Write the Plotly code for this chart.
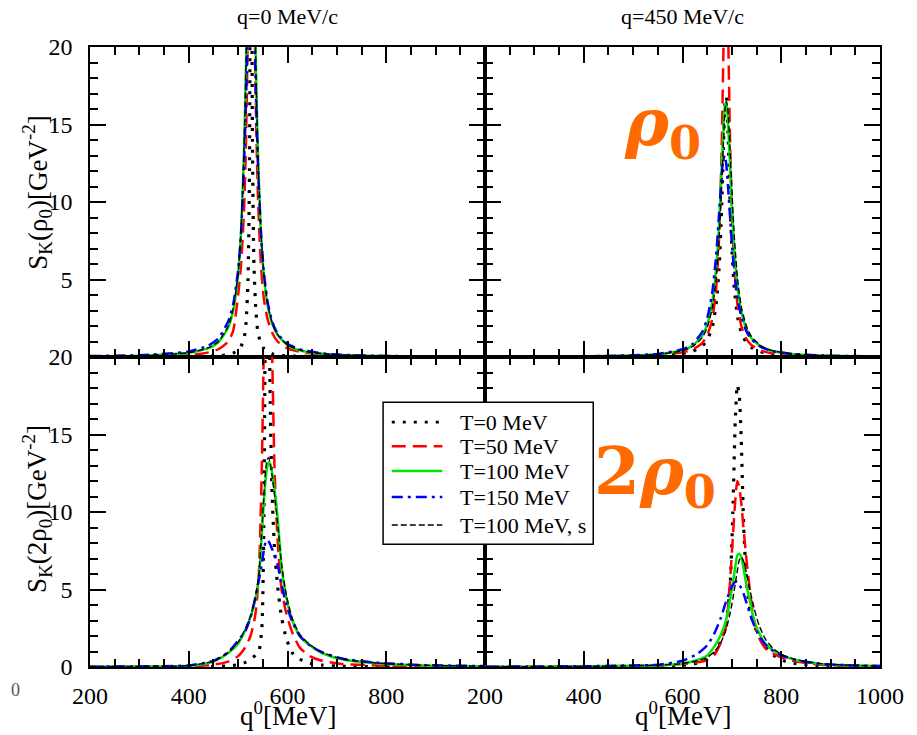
import plotly.graph_objects as go
from plotly.subplots import make_subplots

# ---- data (q0 in MeV, S_K in GeV^-2) ----
Q_TL = [200, 300, 400, 440, 460, 480, 490, 500, 506, 512, 516, 520, 523, 526, 529, 532, 536, 540, 546, 552, 560, 570, 580, 600, 630, 680, 750, 850, 1000]
TL_T0 = [0, 0, 0.02, 0.05, 0.08, 0.15, 0.25, 0.45, 0.7, 1.2, 2.2, 5, 12, 40, 14, 6, 3, 1.6, 0.9, 0.55, 0.35, 0.2, 0.13, 0.07, 0.04, 0.02, 0.01, 0, 0]
TL_T50 = [0.02, 0.04, 0.12, 0.3, 0.5, 1.0, 1.7, 4.0, 6.0, 9.5, 14, 22, 32, 40, 36, 26, 16, 10.5, 6, 3.8, 2.4, 1.5, 1.0, 0.55, 0.3, 0.13, 0.06, 0.03, 0.02]
TL_T100 = [0.04, 0.08, 0.27, 0.57, 0.95, 1.9, 3.0, 5.3, 8.1, 13.3, 18.9, 26.4, 31.7, 33.9, 31.7, 26.4, 18.9, 13.3, 8.1, 5.3, 3.3, 2.07, 1.41, 0.76, 0.39, 0.18, 0.085, 0.04, 0.02]
TL_T150 = [0.06, 0.12, 0.35, 0.75, 1.2, 2.3, 3.4, 5.6, 8.0, 12.5, 16.5, 22, 26, 27.5, 26, 22, 17, 12.5, 8.2, 5.5, 3.5, 2.2, 1.5, 0.85, 0.45, 0.2, 0.1, 0.05, 0.03]
TL_T100S = [0.04, 0.09, 0.28, 0.6, 1.0, 2.0, 3.1, 5.4, 8.3, 13.6, 19.2, 26.8, 32.0, 34.0, 31.5, 26.0, 18.6, 13.2, 8.2, 5.4, 3.4, 2.1, 1.45, 0.78, 0.4, 0.19, 0.09, 0.04, 0.02]

Q_TR = [200, 300, 400, 500, 550, 600, 620, 640, 650, 660, 668, 674, 679, 683, 686, 689, 692, 696, 700, 705, 712, 720, 730, 740, 760, 780, 820, 880, 1000]
TR_T0 = [0.007, 0.011, 0.02, 0.048, 0.089, 0.22, 0.36, 0.71, 1.1, 1.9, 3.4, 5.7, 9.4, 13.6, 16.3, 16.8, 14.7, 10.4, 7.0, 4.4, 2.5, 1.5, 0.91, 0.61, 0.32, 0.2, 0.1, 0.046, 0.017]
TR_T50 = [0.01, 0.015, 0.03, 0.07, 0.12, 0.3, 0.48, 0.9, 1.4, 2.4, 4.4, 7.6, 13, 19.9, 24.8, 25.7, 21.7, 14.5, 9.4, 5.7, 3.2, 1.9, 1.14, 0.76, 0.4, 0.25, 0.12, 0.06, 0.02]
TR_T100 = [0.015, 0.023, 0.042, 0.098, 0.18, 0.44, 0.72, 1.38, 2.1, 3.5, 5.7, 8.5, 11.9, 14.7, 16.2, 16.4, 15.3, 12.6, 9.8, 6.9, 4.4, 2.8, 1.76, 1.19, 0.64, 0.4, 0.2, 0.093, 0.035]
TR_T150 = [0.016, 0.025, 0.046, 0.11, 0.2, 0.5, 0.83, 1.62, 2.5, 4.1, 6.5, 9.2, 11.6, 12.8, 13.0, 12.3, 11.1, 9.2, 7.3, 5.5, 3.7, 2.5, 1.62, 1.13, 0.64, 0.4, 0.2, 0.098, 0.037]
TR_T100S = [0.014, 0.022, 0.04, 0.09, 0.17, 0.4, 0.66, 1.25, 1.9, 3.1, 5.0, 7.6, 10.8, 13.9, 15.9, 16.5, 15.9, 13.6, 10.8, 7.7, 4.9, 3.1, 1.95, 1.3, 0.7, 0.43, 0.21, 0.1, 0.037]

Q_BL = [200, 300, 400, 450, 480, 500, 515, 525, 535, 542, 548, 552, 556, 559, 562, 565, 569, 574, 580, 588, 598, 610, 625, 645, 670, 710, 780, 880, 1000]
BL_T0 = [0, 0, 0.01, 0.03, 0.08, 0.15, 0.3, 0.5, 0.75, 1.0, 2.5, 9, 30, 45, 28, 17, 11, 7.5, 5.2, 3.2, 1.8, 0.9, 0.5, 0.25, 0.12, 0.05, 0.02, 0, 0]
BL_T50 = [0, 0.01, 0.03, 0.15, 0.35, 0.7, 1.3, 2.0, 3.4, 6.0, 13, 20.5, 27, 30, 29, 25, 20, 12.5, 8.2, 5.0, 3.4, 2.2, 1.25, 0.7, 0.4, 0.2, 0.1, 0.05, 0.03]
BL_T100 = [0.02, 0.04, 0.08, 0.35, 0.9, 1.5, 2.4, 3.2, 4.4, 5.8, 8.6, 10.6, 12.2, 12.9, 13.2, 13.1, 12.5, 11.4, 9.6, 6.5, 4.4, 3.0, 2.0, 1.4, 0.9, 0.5, 0.25, 0.1, 0.05]
BL_T150 = [0.02, 0.04, 0.1, 0.4, 0.95, 1.7, 2.35, 3.2, 4.5, 5.6, 6.7, 7.5, 8.1, 8.2, 8.1, 7.9, 7.6, 7.2, 6.6, 5.3, 4.0, 2.9, 2.0, 1.4, 0.95, 0.55, 0.28, 0.12, 0.06]
BL_T100S = [0.02, 0.04, 0.09, 0.38, 0.95, 1.6, 2.5, 3.3, 4.5, 6.0, 8.9, 11.0, 12.8, 13.4, 13.5, 13.1, 12.3, 11.0, 9.3, 6.6, 4.6, 3.1, 2.1, 1.45, 0.95, 0.52, 0.26, 0.11, 0.05]

Q_BR = [200, 300, 400, 500, 550, 600, 630, 650, 665, 678, 688, 696, 702, 707, 711, 715, 719, 724, 730, 737, 745, 755, 768, 785, 805, 830, 880, 950, 1000]
BR_T0 = [0, 0, 0.01, 0.03, 0.06, 0.12, 0.25, 0.5, 0.9, 1.7, 2.8, 5.0, 10, 16, 18.2, 17.5, 14.6, 9.0, 5.4, 3.6, 2.7, 2.0, 1.3, 0.75, 0.4, 0.22, 0.08, 0.03, 0.02]
BR_T50 = [0.01, 0.02, 0.04, 0.07, 0.1, 0.2, 0.3, 0.45, 0.8, 1.6, 2.6, 5.4, 8.4, 10.8, 12.0, 11.6, 10.6, 8.8, 6.8, 4.8, 3.0, 1.9, 1.2, 0.85, 0.55, 0.35, 0.15, 0.07, 0.05]
BR_T100 = [0.01, 0.02, 0.04, 0.08, 0.1, 0.22, 0.45, 0.75, 1.35, 2.1, 3.0, 4.3, 5.4, 6.5, 7.2, 7.3, 7.1, 6.3, 5.2, 4.2, 3.0, 2.2, 1.5, 1.05, 0.7, 0.45, 0.2, 0.1, 0.07]
BR_T150 = [0.02, 0.03, 0.05, 0.1, 0.15, 0.4, 0.85, 1.4, 2.2, 3.2, 4.2, 4.9, 5.3, 5.5, 5.5, 5.3, 5.1, 4.7, 4.1, 3.4, 2.7, 2.0, 1.45, 1.0, 0.7, 0.45, 0.2, 0.1, 0.07]
BR_T100S = [0.01, 0.02, 0.04, 0.08, 0.12, 0.22, 0.4, 0.62, 1.0, 1.6, 2.4, 3.4, 4.4, 5.4, 6.2, 6.9, 7.1, 6.8, 6.0, 4.9, 3.8, 2.7, 1.8, 1.15, 0.75, 0.48, 0.22, 0.1, 0.07]

SERIES_NAMES = ["T=0 MeV", "T=50 MeV", "T=100 MeV", "T=150 MeV", "T=100 MeV, s"]
PANEL_TITLES = ["q=0 MeV/c", "q=450 MeV/c"]
X_TICKS = [200, 400, 600, 800, 1000]
Y_TICKS = [0, 5, 10, 15, 20]

SERIF = "Liberation Serif"
ORANGE = "#FF6A00"

# line styles per series: colour, width, dash
STYLES = [
    ("#000000", 3.2, "3px,8px"),
    ("#FF0000", 2.5, "14px,7px"),
    ("#00E600", 2.5, "solid"),
    ("#0000FF", 2.5, "11px,5px,3px,5px"),
    ("#000000", 1.4, "6px,3px"),
]

panels = [
    (1, 1, Q_TL, [TL_T0, TL_T50, TL_T100, TL_T150, TL_T100S]),
    (1, 2, Q_TR, [TR_T0, TR_T50, TR_T100, TR_T150, TR_T100S]),
    (2, 1, Q_BL, [BL_T0, BL_T50, BL_T100, BL_T150, BL_T100S]),
    (2, 2, Q_BR, [BR_T0, BR_T50, BR_T100, BR_T150, BR_T100S]),
]

fig = make_subplots(rows=2, cols=2, horizontal_spacing=0, vertical_spacing=0)

for row, col, q, curves in panels:
    for name, ys, (color, width, dash) in zip(SERIES_NAMES, curves, STYLES):
        fig.add_trace(go.Scatter(
            x=q, y=ys, mode="lines", name=name,
            line=dict(color=color, width=width, dash=dash, shape="spline", smoothing=0.6),
            showlegend=False,
        ), row=row, col=col)

axis_common = dict(
    showline=True, linecolor="black", linewidth=1.5, mirror="ticks",
    ticks="inside", ticklen=16, tickwidth=1.5, tickcolor="black",
    showgrid=False, zeroline=False,
    tickfont=dict(family=SERIF, size=24, color="black"),
)

for row in (1, 2):
    for col in (1, 2):
        xlabels = [str(v) for v in X_TICKS] if row == 2 else [""] * len(X_TICKS)
        if row == 2 and col == 1:
            xlabels[-1] = ""
        ylabels = [str(v) for v in Y_TICKS] if col == 1 else [""] * len(Y_TICKS)
        if row == 1 and col == 1:
            ylabels[0] = ""
        fig.update_xaxes(
            range=[200, 1000], tickvals=X_TICKS, ticktext=xlabels,
            minor=dict(ticks="inside", ticklen=8, tickwidth=1.5, tickcolor="black", tick0=200, dtick=50),
            ticklabelstandoff=6,
            row=row, col=col, **axis_common,
        )
        fig.update_yaxes(
            range=[0, 20], tickvals=Y_TICKS, ticktext=ylabels,
            minor=dict(ticks="inside", ticklen=8, tickwidth=1.5, tickcolor="black", tick0=0, dtick=1),
            ticklabelstandoff=11,
            row=row, col=col, **axis_common,
        )

title_font = dict(family=SERIF, size=22, color="black")
label_font = dict(family=SERIF, size=27, color="black")
legend_font = dict(family=SERIF, size=22, color="black")
big_font = dict(family="DejaVu Serif", size=66, color=ORANGE)


def note(text, x, y, font, xanchor="center", yanchor="middle", **kw):
    return dict(text=text, x=x, y=y, xref="paper", yref="paper", showarrow=False,
                font=font, xanchor=xanchor, yanchor=yanchor, **kw)


annotations = [
    note(PANEL_TITLES[0], 0.25, 1.0, title_font, yshift=31),
    note(PANEL_TITLES[1], 0.75, 1.0, title_font, yshift=31),
    note("q<sup>0</sup>[MeV]", 0.25, 0.0, label_font, yshift=-47),
    note("q<sup>0</sup>[MeV]", 0.75, 0.0, label_font, yshift=-47),
    note("S<sub>K</sub>(ρ<sub>0</sub>)[GeV<sup>-2</sup>]", 0.0, 0.765, label_font, xshift=-53, textangle=-90),
    note("S<sub>K</sub>(2ρ<sub>0</sub>)[GeV<sup>-2</sup>]", 0.0, 0.255, label_font, xshift=-53, textangle=-90),
    note("<b><i>ρ</i><sub>0</sub></b>", 0.673, 0.945, big_font, xanchor="left", yanchor="top"),
    note("<b>2<i>ρ</i><sub>0</sub></b>", 0.636, 0.235, big_font, xanchor="left", yanchor="bottom"),
    note("0", -0.094, -0.037, dict(family=SERIF, size=18, color="#555555")),
]

# legend box drawn in paper coordinates (box 383..593 px, 402..544 px on the page)
LEG_X0, LEG_X1 = 0.371, 0.637
LEG_Y0, LEG_Y1 = 0.198, 0.427
LINE_X0, LINE_X1 = 0.382, 0.446
TEXT_X = 0.466
ROW_Y = [0.395, 0.356, 0.316, 0.274, 0.229]

shapes = [dict(type="rect", xref="paper", yref="paper", x0=LEG_X0, x1=LEG_X1, y0=LEG_Y0, y1=LEG_Y1,
               line=dict(color="black", width=1.5), fillcolor="white", layer="above")]
for name, ry, (color, width, dash) in zip(SERIES_NAMES, ROW_Y, STYLES):
    shapes.append(dict(type="line", xref="paper", yref="paper", x0=LINE_X0, x1=LINE_X1, y0=ry, y1=ry,
                       line=dict(color=color, width=min(width, 2.6), dash=dash), layer="above"))
    annotations.append(note(name, TEXT_X, ry, legend_font, xanchor="left"))

fig.update_layout(
    width=909, height=727,
    margin=dict(l=82, r=37, t=39, b=68),
    paper_bgcolor="white", plot_bgcolor="white",
    annotations=annotations,
    shapes=shapes,
    showlegend=False,
)

fig.write_html("out.html")
